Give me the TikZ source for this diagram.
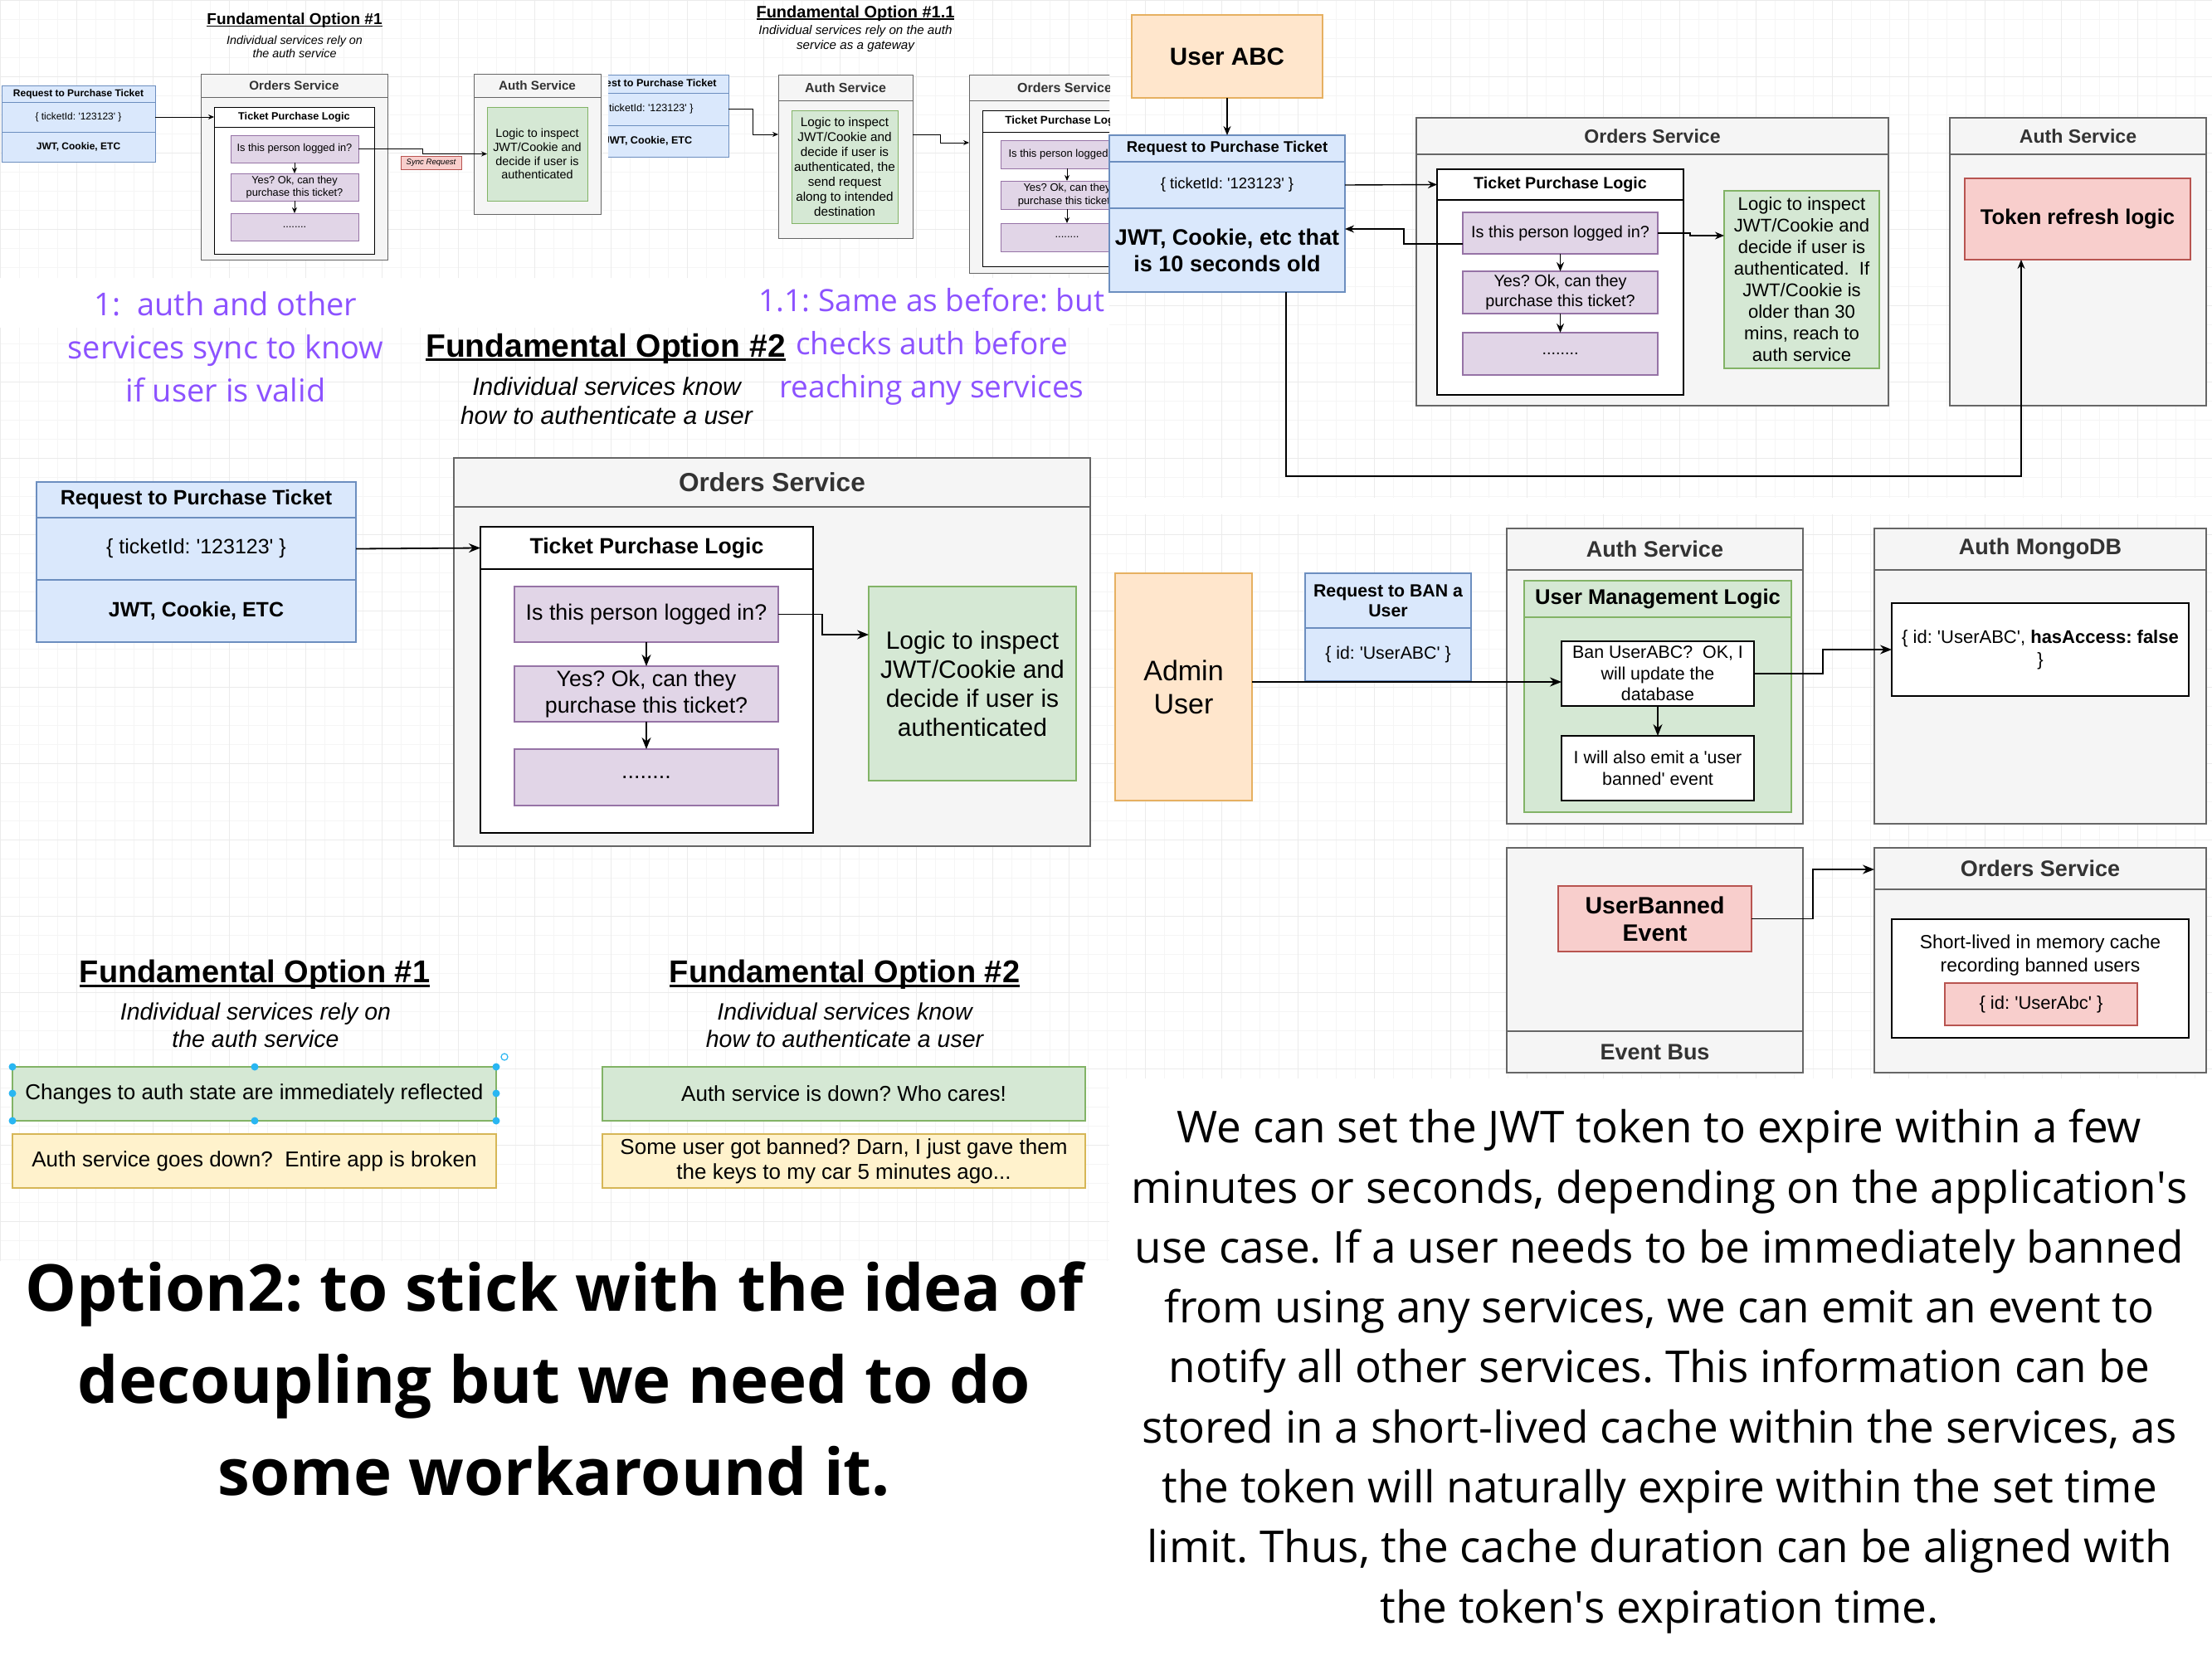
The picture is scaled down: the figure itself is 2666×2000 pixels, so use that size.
\documentclass[tikz,border=0pt]{standalone}
\usepackage{fontspec}
\setmainfont{Liberation Sans}
\newfontfamily\osans{Open Sans}
\usetikzlibrary{arrows.meta}
\frenchspacing
\definecolor{bluef}{HTML}{DAE8FC}
\definecolor{bluel}{HTML}{6C8EBF}
\definecolor{greenf}{HTML}{D5E8D4}
\definecolor{greenl}{HTML}{82B366}
\definecolor{purpf}{HTML}{E1D5E7}
\definecolor{purpl}{HTML}{9673A6}
\definecolor{orangef}{HTML}{FFE6CC}
\definecolor{orangel}{HTML}{E6B061}
\definecolor{redf}{HTML}{F8CECC}
\definecolor{redl}{HTML}{B85450}
\definecolor{yellowf}{HTML}{FFF2CC}
\definecolor{yellowl}{HTML}{D6B656}
\definecolor{ctrf}{HTML}{F5F5F5}
\definecolor{ctrl}{HTML}{666666}
\definecolor{headtxt}{HTML}{333333}
\definecolor{notepurple}{HTML}{8C52FF}
\definecolor{handlec}{HTML}{29B6F2}
\newcommand{\fsz}[2]{\fontsize{#1}{#2}\selectfont}
\newcommand{\sq}{\textquotesingle}
\newcommand{\undl}[1]{\setbox0=\hbox{#1}\rlap{\rule[-0.13em]{\wd0}{0.07em}}\box0}
\newcommand{\bx}[7]{\node[#2, minimum width=#5-#3, minimum height=#6-#4] (#1) at ({(#3+#5)/2},{(#4+#6)/2}) {#7};}
\tikzstyle{bxs}=[inner sep=0pt, outer sep=0pt, align=center]
\tikzstyle{cont}=[bxs, draw=ctrl, fill=ctrf]
\tikzstyle{chead}=[bxs, draw=ctrl, fill=ctrf, text=headtxt]
\tikzstyle{bluebox}=[bxs, draw=bluel, fill=bluef]
\tikzstyle{greenbox}=[bxs, draw=greenl, fill=greenf]
\tikzstyle{purpbox}=[bxs, draw=purpl, fill=purpf]
\tikzstyle{orangebox}=[bxs, draw=orangel, fill=orangef]
\tikzstyle{redbox}=[bxs, draw=redl, fill=redf]
\tikzstyle{yellowbox}=[bxs, draw=yellowl, fill=yellowf]
\tikzstyle{wbox}=[bxs, draw=black, fill=white]
\tikzstyle{arrS}=[-{Stealth[length=7pt,width=6pt]}]
\tikzstyle{arrM}=[-{Stealth[length=11pt,width=9pt]}]
\tikzstyle{arrL}=[-{Stealth[length=14pt,width=11pt]}]
\tikzstyle{gridmin}=[draw=black!4, line width=0.5pt]
\tikzstyle{gridmaj}=[draw=black!8, line width=0.6pt]
\tikzstyle{note}=[text=notepurple, align=center, font=\osans\fsz{38}{52}]
\begin{document}
\begin{tikzpicture}[x=1pt, y=-1pt]
	\useasboundingbox (0,0) rectangle (2666,2000);
	\fill[white] (0,0) rectangle (2666,2000);
	% screenshot grids
	\foreach \xa/\ya/\xb/\yb in {0/0/730/335, 730/0/1337/335, 0/395/1337/1040, 0/1040/1337/1520, 1337/0/2666/600, 1337/620/2666/1300} {
		\draw[gridmin, step=23pt] (\xa,\yb) grid (\xb,\ya);
		\draw[gridmaj, step=92pt] (\xa,\yb) grid (\xb,\ya);
	}
	% option 1, small
	\begin{scope}[line width=0.8pt]
		\node[font=\bfseries\fsz{19}{23}] (titleA) at (355,25) {\undl{Fundamental Option \#1}};
		\node[font=\itshape\fsz{14.3}{16}, align=center] (subA) at (355,56) {Individual services rely on\\the auth service};
		\bx{reqAh}{bluebox, font=\bfseries\fsz{12}{14}}{2}{103}{187}{123}{Request to Purchase Ticket}
		\bx{reqA1}{bluebox, font=\fsz{12}{14}}{2}{123}{187}{159}{\{ ticketId: \sq123123\sq{} \}}
		\bx{reqA2}{bluebox, font=\bfseries\fsz{12}{14}}{2}{159}{187}{195}{JWT, Cookie, ETC}
		\bx{ordA}{cont}{242}{89}{467}{313}{}
		\bx{ordAh}{chead, font=\bfseries\fsz{15.2}{18}}{242}{89}{467}{117}{Orders Service}
		\bx{tplA}{wbox}{258}{129}{451}{306}{}
		\bx{tplAh}{wbox, font=\bfseries\fsz{12.7}{15}}{258}{129}{451}{153}{Ticket Purchase Logic}
		\bx{pA1}{purpbox, font=\fsz{12.8}{15.3}}{278}{163}{432}{196}{Is this person logged in?}
		\bx{pA2}{purpbox, font=\fsz{12.8}{15.3}}{278}{209}{432}{242}{Yes? Ok, can they\\purchase this ticket?}
		\bx{pA3}{purpbox, font=\fsz{12.8}{15.3}}{278}{257}{432}{290}{........}
		\bx{authA}{cont}{571}{89}{724}{258}{}
		\bx{authAh}{chead, font=\bfseries\fsz{15.2}{18}}{571}{89}{724}{117}{Auth Service}
		\bx{gA}{greenbox, font=\fsz{14.4}{16.7}}{587}{129}{708}{242}{Logic to inspect\\JWT/Cookie and\\decide if user is\\authenticated}
		\bx{syncA}{redbox, font=\itshape\fsz{9.6}{11}}{483}{188}{556}{204}{Sync Request}
		\draw[arrS] (reqA1.east) -- (tplAh.west);
		\draw[arrS] (pA1.south) -- (pA2.north);
		\draw[arrS] (pA2.south) -- (pA3.north);
		\draw[arrS] (pA1.east) -- ++(77,0) |- (gA.west);
	\end{scope}
	% option 1.1, small
	\begin{scope}[line width=0.8pt]
		\clip (733,0) rectangle (1337,335);
		\node[font=\bfseries\fsz{20}{24}] (titleB) at (1031,16) {\undl{Fundamental Option \#1.1}};
		\node[font=\itshape\fsz{15.2}{18}, align=center] (subB) at (1031,47) {Individual services rely on the auth\\service as a gateway};
		\bx{reqBh}{bluebox, font=\bfseries\fsz{12.6}{15}}{684}{90}{878}{112}{Request to Purchase Ticket}
		\bx{reqB1}{bluebox, font=\fsz{12.6}{15}}{684}{112}{878}{151}{\{ ticketId: \sq123123\sq{} \}}
		\bx{reqB2}{bluebox, font=\bfseries\fsz{12.6}{15}}{684}{151}{878}{189}{JWT, Cookie, ETC}
		\bx{authB}{cont}{938}{90}{1100}{287}{}
		\bx{authBh}{chead, font=\bfseries\fsz{16}{19}}{938}{90}{1100}{121}{Auth Service}
		\bx{gB}{greenbox, font=\fsz{15.3}{17.9}}{954}{133}{1082}{269}{Logic to inspect\\JWT/Cookie and\\decide if user is\\authenticated, the\\send request\\along to intended\\destination}
		\bx{ordB}{cont}{1168}{90}{1398}{329}{}
		\bx{ordBh}{chead, font=\bfseries\fsz{16}{19}}{1168}{90}{1398}{121}{Orders Service}
		\bx{tplB}{wbox}{1184}{133}{1382}{321}{}
		\bx{tplBh}{wbox, font=\bfseries\fsz{13.5}{16}}{1184}{133}{1382}{159}{Ticket Purchase Logic}
		\bx{pB1}{purpbox, font=\fsz{13}{15.6}}{1206}{169}{1366}{203}{Is this person logged in?}
		\bx{pB2}{purpbox, font=\fsz{13}{15.6}}{1206}{218}{1366}{252}{Yes? Ok, can they\\purchase this ticket?}
		\bx{pB3}{purpbox, font=\fsz{13}{15.6}}{1206}{269}{1366}{303}{........}
		\draw[arrS] (reqB1.east) -- ++(29,0) |- ([yshift=26.5]authB.west);
		\draw[arrS] ([yshift=26.5]authB.east) -- ++(33,0) |- ([yshift=37.5]ordB.west);
		\draw[arrS] (pB1.south) -- (pB2.north);
		\draw[arrS] (pB2.south) -- (pB3.north);
	\end{scope}
	% notes
	\node[note] (noteA) at (272,418) {1:\ \ auth and other\\services sync to know\\if user is valid};
	\node[note, font=\osans\fsz{37}{52}] (noteB) at (1123,418) {1.1: Same as before: but\\checks auth before\\reaching any services};
	% option 2, large
	\begin{scope}[line width=1.8pt]
		\node[font=\bfseries\fsz{39}{46}] (titleC) at (730,420) {\undl{Fundamental Option \#2}};
		\node[font=\itshape\fsz{30}{35}, align=center] (subC) at (731,483) {Individual services know\\how to authenticate a user};
		\bx{reqCh}{bluebox, font=\bfseries\fsz{25}{30}}{44}{581}{429}{624}{Request to Purchase Ticket}
		\bx{reqC1}{bluebox, font=\fsz{25}{30}}{44}{624}{429}{699}{\{ ticketId: \sq123123\sq{} \}}
		\bx{reqC2}{bluebox, font=\bfseries\fsz{25}{30}}{44}{699}{429}{774}{JWT, Cookie, ETC}
		\bx{ordC}{cont}{547}{552}{1314}{1020}{}
		\bx{ordCh}{chead, font=\bfseries\fsz{31.6}{38}}{547}{552}{1314}{611}{Orders Service}
		\bx{tplC}{wbox}{579}{635}{980}{1004}{}
		\bx{tplCh}{wbox, font=\bfseries\fsz{26.6}{32}}{579}{635}{980}{686}{Ticket Purchase Logic}
		\bx{pC1}{purpbox, font=\fsz{26.8}{32}}{620}{707}{938}{774}{Is this person logged in?}
		\bx{pC2}{purpbox, font=\fsz{26.8}{32}}{620}{803}{938}{870}{Yes? Ok, can they\\purchase this ticket?}
		\bx{pC3}{purpbox, font=\fsz{26.8}{32}}{620}{903}{938}{971}{........}
		\bx{gC}{greenbox, font=\fsz{30}{35}}{1047}{707}{1297}{941}{Logic to inspect\\JWT/Cookie and\\decide if user is\\authenticated}
		\draw[arrL] (reqC1.east) -- (tplCh.west);
		\draw[arrL] (pC1.south) -- (pC2.north);
		\draw[arrL] (pC2.south) -- (pC3.north);
		\draw[arrL] (pC1.east) -- ++(53,0) |- ([yshift=59]gC.west);
	\end{scope}
	% comparison
	\begin{scope}[line width=1.8pt]
		\node[font=\bfseries\fsz{38}{45}] (titleD1) at (307,1175) {\undl{Fundamental Option \#1}};
		\node[font=\itshape\fsz{28.5}{33}, align=center] (subD1) at (308,1236) {Individual services rely on\\the auth service};
		\bx{gD1}{greenbox, font=\fsz{26}{30}}{15}{1286}{598}{1351}{Changes to auth state are immediately reflected}
		\bx{yD1}{yellowbox, font=\fsz{26}{30}}{15}{1367}{598}{1432}{Auth service goes down?\ \ Entire app is broken}
		\node[font=\bfseries\fsz{38}{45}] (titleD2) at (1018,1175) {\undl{Fundamental Option \#2}};
		\node[font=\itshape\fsz{28.5}{33}, align=center] (subD2) at (1018,1236) {Individual services know\\how to authenticate a user};
		\bx{gD2}{greenbox, font=\fsz{26}{30}}{726}{1286}{1308}{1351}{Auth service is down? Who cares!}
		\bx{yD2}{yellowbox, font=\fsz{26}{30}}{726}{1367}{1308}{1432}{Some user got banned? Darn, I just gave them\\the keys to my car 5 minutes ago...}
		\foreach \hx/\hy in {15/1286, 307/1286, 598/1286, 15/1318, 598/1318, 15/1351, 307/1351, 598/1351}
			\fill[handlec] (\hx,\hy) circle (4.5pt);
		\draw[handlec, line width=1.2pt] (608,1274) circle (4pt);
	\end{scope}
	\node[font=\osans\bfseries\fsz{78}{111}, align=center] (bigtext) at (668,1662) {Option2: to stick with the idea of\\decoupling but we need to do\\some workaround it.};
	% token refresh
	\begin{scope}[line width=1.4pt]
		\bx{userABC}{orangebox, font=\bfseries\fsz{29.6}{35}}{1364}{18}{1594}{118}{User ABC}
		\bx{reqEh}{bluebox, font=\bfseries\fsz{18.5}{22}}{1337}{163}{1621}{195}{Request to Purchase Ticket}
		\bx{reqE1}{bluebox, font=\fsz{18.5}{22}}{1337}{195}{1621}{251}{\{ ticketId: \sq123123\sq{} \}}
		\bx{reqE2}{bluebox, font=\bfseries\fsz{27}{32}}{1337}{251}{1621}{352}{JWT, Cookie, etc that\\is 10 seconds old}
		\bx{ordE}{cont}{1707}{142}{2276}{489}{}
		\bx{ordEh}{chead, font=\bfseries\fsz{23.1}{28}}{1707}{142}{2276}{186}{Orders Service}
		\bx{tplE}{wbox}{1732}{204}{2029}{476}{}
		\bx{tplEh}{wbox, font=\bfseries\fsz{19.7}{24}}{1732}{204}{2029}{241}{Ticket Purchase Logic}
		\bx{pE1}{purpbox, font=\fsz{19.8}{24}}{1763}{256}{1998}{306}{Is this person logged in?}
		\bx{pE2}{purpbox, font=\fsz{19.8}{24}}{1763}{327}{1998}{378}{Yes? Ok, can they\\purchase this ticket?}
		\bx{pE3}{purpbox, font=\fsz{19.8}{24}}{1763}{401}{1998}{452}{........}
		\bx{gE}{greenbox, font=\fsz{22.1}{26}}{2078}{230}{2265}{444}{Logic to inspect\\JWT/Cookie and\\decide if user is\\authenticated.\ \ If\\JWT/Cookie is\\older than 30\\mins, reach to\\auth service}
		\bx{authE}{cont}{2350}{142}{2659}{489}{}
		\bx{authEh}{chead, font=\bfseries\fsz{23.1}{28}}{2350}{142}{2659}{186}{Auth Service}
		\bx{tokE}{redbox, font=\bfseries\fsz{25.6}{30}}{2368}{215}{2640}{313}{Token refresh logic}
		\draw[arrM] (userABC.south) -- (reqEh.north);
		\draw[arrM] (reqE1.east) -- (tplEh.west);
		\draw[arrM] ([yshift=-13]pE1.west) -- ++(-71,0) |- ([yshift=25.5]reqE2.east);
		\draw[arrM] (pE1.east) -- ++(39,0) |- ([yshift=53]gE.west);
		\draw[arrM] (pE1.south) -- (pE2.north);
		\draw[arrM] (pE2.south) -- (pE3.north);
		\draw[arrM] ([xshift=71]reqE2.south) -- ++(0,222) -| ([xshift=-68]tokE.south);
	\end{scope}
	% banning a user
	\begin{scope}[line width=1.8pt]
		\bx{admin}{orangebox, font=\fsz{34}{40}}{1344}{691}{1509}{965}{Admin\\User}
		\bx{reqFh}{bluebox, font=\bfseries\fsz{21.3}{24}}{1573}{691}{1773}{757}{Request to BAN a\\User}
		\bx{reqF1}{bluebox, font=\fsz{21.3}{25}}{1573}{757}{1773}{821}{\{ id: \sq UserABC\sq{} \}}
		\bx{authF}{cont}{1816}{637}{2173}{993}{}
		\bx{authFh}{chead, font=\bfseries\fsz{27}{32}}{1816}{637}{2173}{687}{Auth Service}
		\bx{umF}{greenbox}{1837}{700}{2159}{979}{}
		\bx{umFh}{greenbox, font=\bfseries\fsz{25.6}{30}}{1837}{700}{2159}{744}{User Management Logic}
		\bx{banF}{wbox, font=\fsz{21.4}{25.5}}{1882}{773}{2114}{851}{Ban UserABC?\ \ OK, I\\will update the\\database}
		\bx{emitF}{wbox, font=\fsz{21.4}{26}}{1882}{887}{2114}{965}{I will also emit a \sq user\\banned\sq{} event}
		\bx{mongoF}{cont}{2259}{637}{2659}{993}{}
		\bx{mongoFh}{chead, font=\bfseries\fsz{27}{32}}{2259}{637}{2659}{687}{Auth MongoDB}
		\bx{mongoIn}{wbox, font=\fsz{22}{27}}{2280}{727}{2638}{839}{\{ id: \sq UserABC\sq, \textbf{hasAccess: false}\\\}}
		\bx{busF}{cont}{1816}{1022}{2173}{1293}{}
		\bx{busFf}{chead, font=\bfseries\fsz{27}{32}}{1816}{1243}{2173}{1293}{Event Bus}
		\bx{ubF}{redbox, font=\bfseries\fsz{28.5}{33}}{1878}{1068}{2111}{1147}{UserBanned\\Event}
		\bx{ordF}{cont}{2259}{1022}{2659}{1293}{}
		\bx{ordFh}{chead, font=\bfseries\fsz{27}{32}}{2259}{1022}{2659}{1072}{Orders Service}
		\bx{cacheF}{wbox}{2280}{1108}{2638}{1251}{}
		\node[font=\fsz{22.9}{28}, align=center] (cacheFt) at (2459,1152) {Short-lived in memory cache\\recording banned users};
		\bx{uidF}{redbox, font=\fsz{22}{26}}{2344}{1185}{2576}{1236}{\{ id: \sq UserAbc\sq{} \}}
		\draw[arrL] ([yshift=6]admin.east) -- ([yshift=-10]banF.west);
		\draw[arrL] (banF.south) -- (emitF.north);
		\draw[arrL] (banF.east) -- ++(83,0) |- (mongoIn.west);
		\draw[arrL] (ubF.east) -- ++(74,0) |- ([yshift=109.5]ordF.west);
	\end{scope}
	\node[font=\osans\fsz{53}{72.3}, align=center] (para) at (2000,1653) {We can set the JWT token to expire within a few\\minutes or seconds, depending on the application\sq s\\use case. If a user needs to be immediately banned\\from using any services, we can emit an event to\\notify all other services. This information can be\\stored in a short-lived cache within the services, as\\the token will naturally expire within the set time\\limit. Thus, the cache duration can be aligned with\\the token\sq s expiration time.};
\end{tikzpicture}
\end{document}
